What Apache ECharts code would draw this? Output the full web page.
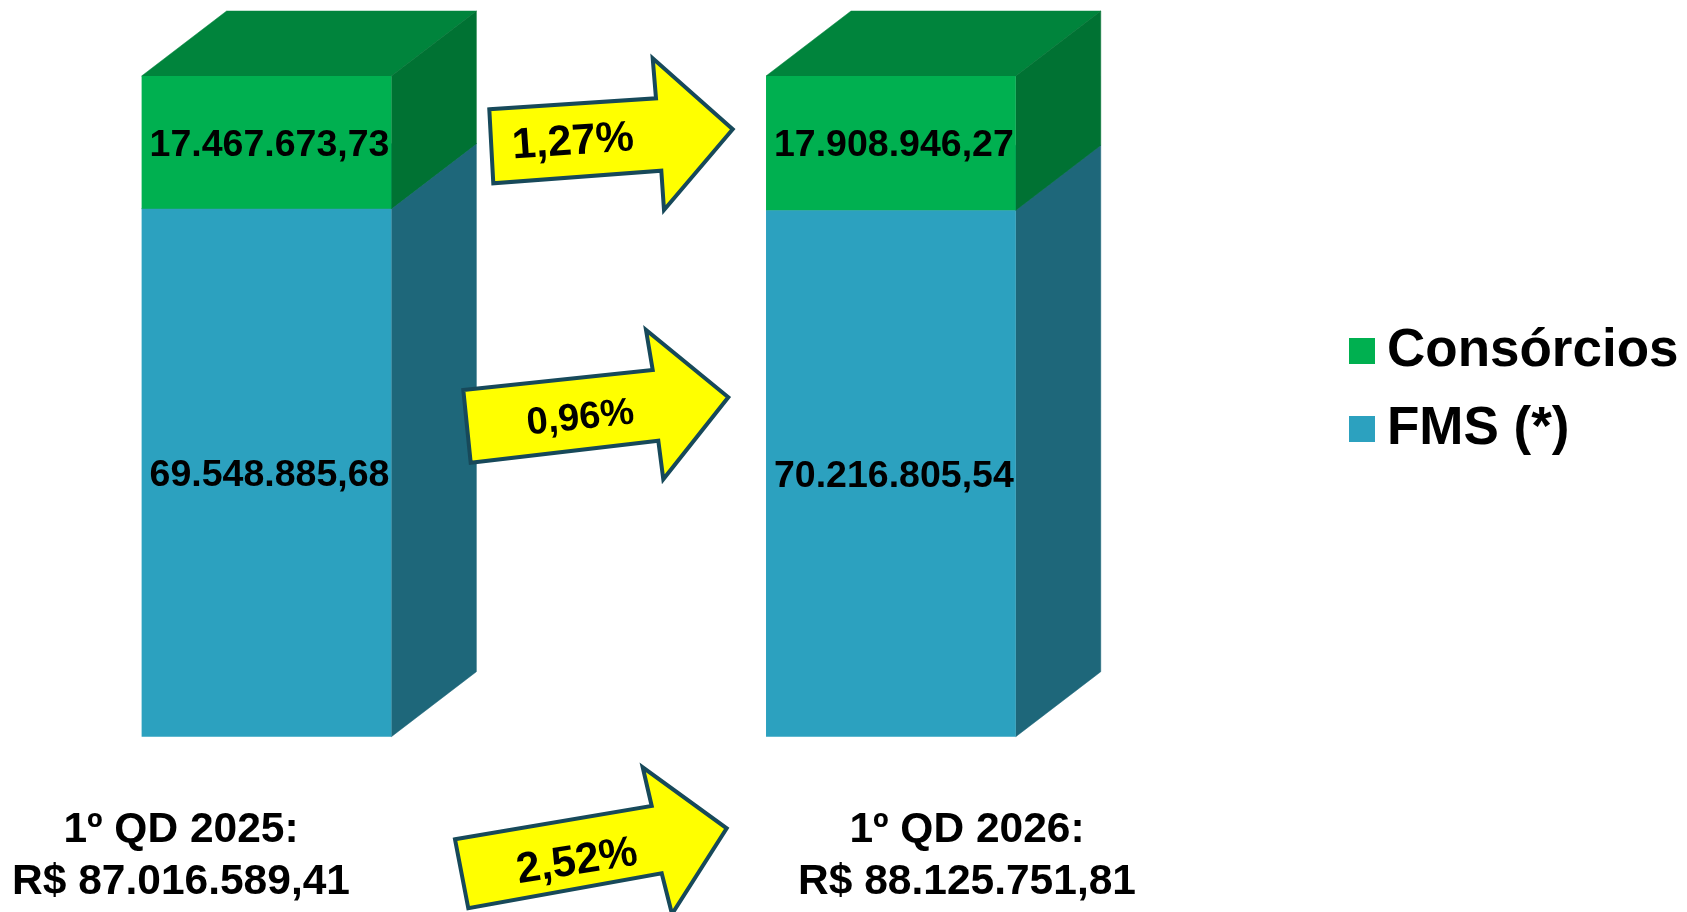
<!DOCTYPE html>
<html>
<head>
<meta charset="utf-8">
<script src="https://cdn.jsdelivr.net/npm/echarts@6/dist/echarts.min.js"></script>
<style>
html,body{margin:0;padding:0;background:#fff;}
#c{width:1687px;height:912px;}
</style>
</head>
<body>
<div id="c"></div>
<script>
const categories = ['1º QD 2025', '1º QD 2026'];
const fmsValues = [69548885.68, 70216805.54];
const consorciosValues = [17467673.73, 17908946.27];
const periodLabels = ['1º QD 2025:', '1º QD 2026:'];
const totalLabels = ['R$ 87.016.589,41', 'R$ 88.125.751,81'];
const growthLabels = ['1,27%', '0,96%', '2,52%'];
const seriesNames = ['Consórcios', 'FMS (*)'];

const FONT = "'Liberation Sans', Arial, sans-serif";
const BAR_WIDTH = 0.4;   // in x-axis units
const DX = 85, DY = 65;  // 3D depth in pixels

function fmtBR(v) {
  const parts = v.toFixed(2).split('.');
  const intPart = parts[0].replace(/\B(?=(\d{3})+(?!\d))/g, '.');
  return intPart + ',' + parts[1];
}

const totals = fmsValues.map((v, i) => v + consorciosValues[i]);
const fmsData = fmsValues.map((v, i) => [i, 0, v / totals[i], v]);
const consData = consorciosValues.map((v, i) => [i, fmsValues[i] / totals[i], 1, v]);

function makeRender(front, side, topc) {
  return function (params, api) {
    const x = api.value(0), y0 = api.value(1), y1 = api.value(2), raw = api.value(3);
    const pB = api.coord([x, y0]);
    const pT = api.coord([x, y1]);
    const w = api.size([BAR_WIDTH, 0])[0];
    const l = pB[0] - w / 2, r = pB[0] + w / 2;
    const t = pT[1], b = pB[1];
    return {
      type: 'group',
      children: [
        { type: 'polygon', shape: { points: [[l, t], [l + DX, t - DY], [r + DX, t - DY], [r, t]] },
          style: { fill: topc, stroke: topc, lineWidth: 0.5 } },
        { type: 'polygon', shape: { points: [[r, t], [r + DX, t - DY], [r + DX, b - DY], [r, b]] },
          style: { fill: side, stroke: side, lineWidth: 0.5 } },
        { type: 'rect', shape: { x: l, y: t, width: w, height: b - t },
          style: { fill: front } },
        { type: 'text', x: (l + r) / 2 + 3, y: (t + b) / 2 + 3,
          style: { text: fmtBR(raw), fill: '#000', align: 'center', verticalAlign: 'middle',
                   font: 'bold 37.5px ' + FONT } }
      ]
    };
  };
}

const arrowStroke = '#17495a';
const arrows = [
  { pts: [[489.3,109.3],[656,98.3],[652.7,58.3],[732.7,129.3],[664,210],[661.3,170.7],[493.3,183.3]],
    tx: 573, ty: 142.5, rot: 4, fs: 43 },
  { pts: [[463.3,390],[652.7,370],[646,330],[728.3,397.3],[663.3,479.3],[658.3,440.7],[470.7,462.7]],
    tx: 580.5, ty: 418.5, rot: 6, fs: 38 },
  { pts: [[455,839.3],[651.7,806],[642.7,767.3],[726.7,828.3],[672,914],[661.7,873.3],[468.3,908.3]],
    tx: 577, ty: 862, rot: 9, fs: 43 }
];

const graphics = [];
arrows.forEach((a, i) => {
  graphics.push({ type: 'polygon', shape: { points: a.pts },
    style: { fill: '#ffff00', stroke: arrowStroke, lineWidth: 4, lineJoin: 'miter' }, z: 10 });
  graphics.push({ type: 'text', x: a.tx, y: a.ty, rotation: a.rot * Math.PI / 180,
    style: { text: growthLabels[i], fill: '#000', align: 'center', verticalAlign: 'middle',
             font: 'bold ' + a.fs + 'px ' + FONT }, z: 11 });
});
const totalPos = [[181, 856], [967, 856]];
categories.forEach((c, i) => {
  graphics.push({ type: 'text', x: totalPos[i][0], y: totalPos[i][1],
    style: { text: periodLabels[i] + '\n' + totalLabels[i], fill: '#000', align: 'center',
             verticalAlign: 'middle', lineHeight: 52, font: 'bold 42.5px ' + FONT }, z: 10 });
});

const chart = echarts.init(document.getElementById('c'), null, { renderer: 'canvas' });
chart.setOption({
  animation: false,
  backgroundColor: '#ffffff',
  grid: { left: 266.5, right: 796.1, top: 76, bottom: 175.3 },
  xAxis: { type: 'value', min: 0, max: 1, show: false },
  yAxis: { type: 'value', min: 0, max: 1, show: false },
  legend: {
    data: seriesNames,
    orient: 'vertical',
    left: 1344, top: 319.5,
    itemWidth: 26, itemHeight: 26, itemGap: 25,
    icon: 'rect',
    textStyle: { fontSize: 53, fontWeight: 'bold', color: '#000', fontFamily: FONT,
                 lineHeight: 52, padding: [0, 0, 0, 7] },
    selectedMode: false
  },
  series: [
    { type: 'custom', name: 'FMS (*)', data: fmsData, clip: false,
      itemStyle: { color: '#2ca1bf' },
      renderItem: makeRender('#2ca1bf', '#1e677a', '#237f97') },
    { type: 'custom', name: 'Consórcios', data: consData, clip: false,
      itemStyle: { color: '#00b050' },
      renderItem: makeRender('#00b050', '#007233', '#00843c') }
  ],
  graphic: graphics
});
</script>
</body>
</html>
